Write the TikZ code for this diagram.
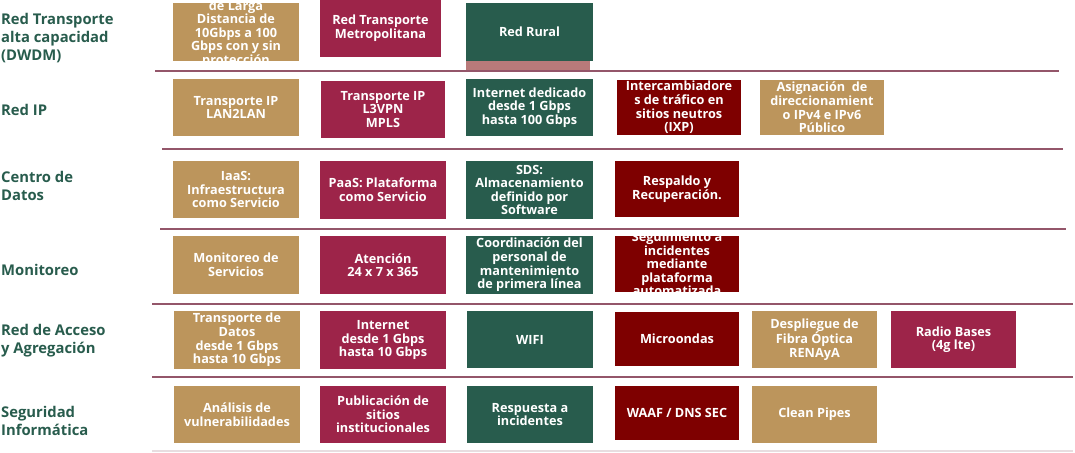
\documentclass[tikz,border=0pt]{standalone}
\usepackage{fontspec}
\setmainfont{Open Sans}
\definecolor{tan}{HTML}{BC955C}
\definecolor{crimson}{HTML}{9D2449}
\definecolor{pine}{HTML}{285C4D}
\definecolor{maroon}{HTML}{7E0000}
\definecolor{rosebar}{HTML}{B87A7A}
\definecolor{rulecol}{HTML}{94566A}
\definecolor{faintrule}{HTML}{E8DDE0}
\tikzset{
  tilebox/.style={inner sep=0pt, outer sep=0pt, draw=none},
  tiletext/.style={text=white, align=center, inner sep=0pt,
    font=\bfseries\fontsize{12.7}{13.6}\selectfont},
  rowlabel/.style={anchor=west, align=left, inner sep=0pt, text=pine,
    font=\bfseries\fontsize{14.8}{18}\selectfont},
  rowrule/.style={draw=rulecol, line width=1.2pt},
}
% \tile[text shift]{name}{fill}{x0}{y0}{x1}{y1}{text}
\newcommand\tile[8][0]{%
  \node[tilebox, fill=#3,
    minimum width={(#6-#4)*1pt}, minimum height={(#7-#5)*1pt},
    path picture={\node[tiletext, yshift=#1pt] at (path picture bounding box.center) {#8};}]
    (#2) at ({(#4+#6)/2},{(#5+#7)/2}) {};}
\begin{document}
\begin{tikzpicture}[x=1pt, y=-1pt]
\useasboundingbox[fill=white] (0,0) rectangle (1075,452);

% horizontal rules between the rows
\draw[rowrule] (155,71) -- (1059,71);
\draw[rowrule] (162,149) -- (1063,149);
\draw[rowrule] (160,229) -- (1066,229);
\draw[rowrule] (152,304) -- (1073,304);
\draw[rowrule] (152,377) -- (1073,377);
\draw[draw=faintrule, line width=1.2pt] (152,451) -- (1073,451);

% row labels
\node[rowlabel] (l1) at (1,38) {Red Transporte\\alta capacidad\\(DWDM)};
\node[rowlabel] (l2) at (1,110) {Red IP};
\node[rowlabel] (l3) at (1,186) {Centro de\\Datos};
\node[rowlabel] (l4) at (1,270) {Monitoreo};
\node[rowlabel] (l5) at (1,341) {Red de Acceso\\y Agregación};
\node[rowlabel] (l6) at (1,421) {Seguridad\\Informática};

% transport row
\tile[4.5]{t1}{tan}{173}{3}{299}{61}{Transporte\\de Larga\\Distancia de\\10Gbps a 100\\Gbps con y sin\\protección}
\tile{t2}{crimson}{320}{0}{441}{57}{Red Transporte\\Metropolitana}
\tile{t3}{pine}{466}{3}{593}{61}{Red Rural}
\fill[rosebar] (466,61) rectangle (590,70);

% IP row
\tile{i1}{tan}{173}{79}{299}{136}{Transporte IP\\LAN2LAN}
\tile{i2}{crimson}{321}{81}{445}{138}{Transporte IP\\L3VPN\\MPLS}
\tile{i3}{pine}{466}{79}{593}{136}{Internet dedicado\\desde 1 Gbps\\hasta 100 Gbps}
\tile{i4}{maroon}{617}{80}{741}{135}{Intercambiadore\\s de tráfico en\\sitios neutros\\(IXP)}
\tile{i5}{tan}{760}{80}{884}{135}{Asignación\ \ de\\direccionamient\\o IPv4 e IPv6\\Público}

% data centre row
\tile{d1}{tan}{173}{161}{299}{218}{IaaS:\\Infraestructura\\como Servicio}
\tile{d2}{crimson}{320}{161}{446}{219}{PaaS: Plataforma\\como Servicio}
\tile{d3}{pine}{466}{161}{593}{219}{SDS:\\Almacenamiento\\definido por\\Software}
\tile{d4}{maroon}{615}{161}{739}{217}{Respaldo y\\Recuperación.}

% monitoring row
\tile{m1}{tan}{173}{236}{299}{294}{Monitoreo de\\Servicios}
\tile{m2}{crimson}{320}{236}{446}{294}{Atención\\24 x 7 x 365}
\tile{m3}{pine}{466}{236}{593}{294}{Coordinación del\\personal de\\mantenimiento\\de primera línea}
\tile{m4}{maroon}{615}{236}{739}{292}{Seguimiento a\\incidentes\\mediante\\plataforma\\automatizada}

% access row
\tile{a1}{tan}{174}{311}{300}{369}{Transporte de\\Datos\\desde 1 Gbps\\hasta 10 Gbps}
\tile{a2}{crimson}{320}{311}{446}{369}{Internet\\desde 1 Gbps\\hasta 10 Gbps}
\tile{a3}{pine}{467}{311}{593}{368}{WIFI}
\tile{a4}{maroon}{615}{312}{739}{366}{Microondas}
\tile{a5}{tan}{752}{311}{877}{368}{Despliegue de\\Fibra Óptica\\RENAyA}
\tile{a6}{crimson}{891}{311}{1016}{368}{Radio Bases\\(4g lte)}

% security row
\tile{s1}{tan}{174}{386}{300}{443}{Análisis de\\vulnerabilidades}
\tile{s2}{crimson}{320}{386}{446}{443}{Publicación de\\sitios\\institucionales}
\tile{s3}{pine}{467}{386}{593}{443}{Respuesta a\\incidentes}
\tile{s4}{maroon}{615}{386}{739}{440}{WAAF / DNS SEC}
\tile{s5}{tan}{752}{386}{877}{443}{Clean Pipes}
\end{tikzpicture}
\end{document}
